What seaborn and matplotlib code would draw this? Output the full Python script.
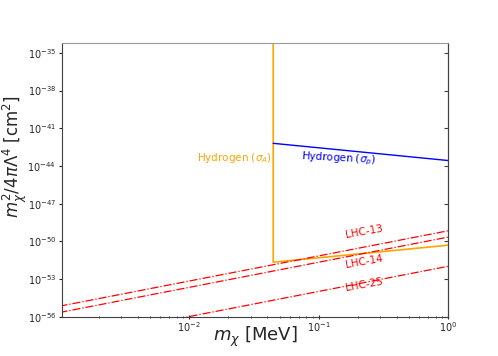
import matplotlib
matplotlib.use("Agg")
import matplotlib.pyplot as plt
import numpy as np
import pandas as pd
import seaborn as sns

# values (log-log straight lines -> endpoints)
hyd_a_x = [0.0446, 0.0446, 1.0]
hyd_a_y = [1e-30, 2.2e-52, 5.0e-51]

hyd_p_x = [0.0446, 1.0]
hyd_p_y = [6.3e-43, 2.7e-44]

lhc_x = [1e-3, 1.0]
lhc13_y = [7.0e-56, 7.0e-50]
lhc14_y = [2.2e-56, 2.2e-50]
lhc25_y = [1.05e-58, 1.05e-52]

ytick_vals = [1e-56, 1e-53, 1e-50, 1e-47, 1e-44, 1e-41, 1e-38, 1e-35]
ytick_labels = [r"$10^{-56}$", r"$10^{-53}$", r"$10^{-50}$", r"$10^{-47}$",
                r"$10^{-44}$", r"$10^{-41}$", r"$10^{-38}$", r"$10^{-35}$"]

sns.set_style("white")
plt.rcParams["font.family"] = ["DejaVu Sans"]

fig, ax = plt.subplots(figsize=(4.98, 3.56), dpi=100)

sns.lineplot(x=hyd_a_x, y=hyd_a_y, sort=False, estimator=None,
             color="orange", lw=1.2, ax=ax)
sns.lineplot(x=hyd_p_x, y=hyd_p_y, sort=False, estimator=None,
             color="blue", lw=1.0, ax=ax)
for ys in (lhc13_y, lhc14_y, lhc25_y):
    sns.lineplot(x=lhc_x, y=ys, sort=False, estimator=None,
                 color="red", lw=0.9, ls="-.", ax=ax)

ax.set_xscale("log")
ax.set_yscale("log")
ax.set_xlim(1.05e-3, 1.0)
ax.set_ylim(1e-56, 10 ** -34.2)

ax.set_yticks(ytick_vals)
ax.set_yticklabels(ytick_labels)
ax.yaxis.set_minor_locator(matplotlib.ticker.NullLocator())

ax.tick_params(axis="y", which="major", left=True, length=2.5,
               labelsize=7, direction="out", pad=2)
ax.tick_params(axis="x", which="both", bottom=True, direction="inout",
               length=2.5, labelsize=7, pad=1)
ax.tick_params(axis="x", which="minor", length=2)
for side in ("left", "right", "bottom"):
    ax.spines[side].set_color("0.25")
ax.spines["top"].set_color("0.6")

# inward ticks on the right spine
ax_r = ax.secondary_yaxis("right")
ax_r.set_yticks(ytick_vals)
ax_r.set_yticklabels([])
ax_r.tick_params(direction="in", length=3, color="0.25")
ax_r.yaxis.set_minor_locator(matplotlib.ticker.NullLocator())
ax_r.spines["right"].set_color("0.25")

ax.set_xlabel(r"$m_\chi$ [MeV]", fontsize=13)
ax.xaxis.set_label_coords(0.5, -0.03)
ax.set_ylabel(r"$m_\chi^2/4\pi\Lambda^4$ [cm$^2$]", fontsize=12)
ax.yaxis.set_label_coords(-0.086, 0.585)

ax.text(0.0223, 10 ** -43.4, r"Hydrogen ($\sigma_A$)", color="orange",
        fontsize=7.5, ha="center", va="center")
ax.text(0.143, 10 ** -43.45, r"Hydrogen ($\sigma_p$)", color="blue",
        fontsize=7.5, ha="center", va="center", rotation=-3)
ax.text(0.223, 10 ** -49.2, "LHC-13", color="red", fontsize=7.5,
        ha="center", va="center", rotation=10)
ax.text(0.223, 10 ** -51.6, "LHC-14", color="red", fontsize=7.5,
        ha="center", va="center", rotation=10)
ax.text(0.223, 10 ** -53.45, "LHC-25", color="red", fontsize=7.5,
        ha="center", va="center", rotation=10)

fig.savefig("out.png", dpi=100)
